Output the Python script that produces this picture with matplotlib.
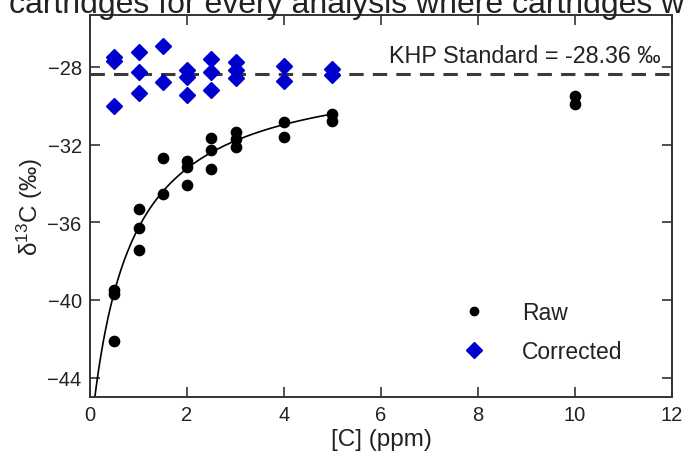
import numpy as np
import matplotlib
matplotlib.use("Agg")
import matplotlib.pyplot as plt

plt.rcParams['font.family'] = ['Liberation Sans', 'DejaVu Sans']

# Raw measurements: concentration (ppm) and delta 13C (per mil)
raw_conc = [0.5, 0.5, 0.5, 1, 1, 1, 1.5, 1.5, 2, 2, 2, 2.5, 2.5, 2.5,
            3, 3, 3, 4, 4, 5, 5, 10, 10]
raw_d13c = [-39.5, -39.7, -42.1, -35.3, -36.3, -37.45, -32.7, -34.55,
            -32.85, -33.15, -34.1, -31.65, -32.3, -33.25,
            -31.35, -31.7, -32.1, -30.85, -31.6, -30.45, -30.8, -29.5, -29.9]

# Blank-corrected values
corr_conc = [0.5, 0.5, 0.5, 1, 1, 1, 1.5, 1.5, 2, 2, 2, 2.5, 2.5, 2.5,
             3, 3, 3, 4, 4, 5, 5]
corr_d13c = [-27.5, -27.7, -30.0, -27.25, -28.25, -29.35, -26.9, -28.8,
             -28.15, -28.5, -29.45, -27.6, -28.25, -29.2,
             -27.75, -28.15, -28.55, -27.95, -28.7, -28.1, -28.4]

# KHP reference value
khp_std = -28.36

# Blank-mixing fit: d13C = a + b / (C + k)
fit_a, fit_b, fit_k = -27.83, -14.97, 0.772
fit_range = (0.08, 5.0)

x_ticks = [0, 2, 4, 6, 8, 10, 12]
y_ticks = [-44, -40, -36, -32, -28]

fig = plt.figure(figsize=(6.85, 4.6), dpi=100)
ax = fig.add_axes([0.1314, 0.1348, 0.8496, 0.8315])

# Fragment of running text along the top edge
fig.text(9 / 685, 1 - 13 / 460, "cartridges for every analysis where cartridges w",
         fontsize=23, color='#222222', va='baseline', ha='left')

ax.axhline(khp_std, color='#3a3a3a', lw=2.2, dashes=(4.7, 3.0), zorder=1)

xf = np.linspace(fit_range[0], fit_range[1], 300)
ax.plot(xf, fit_a + fit_b / (xf + fit_k), color='black', lw=1.2, zorder=2)

ax.plot(raw_conc, raw_d13c, 'o', color='black', ms=7.4, ls='none',
        label='Raw', zorder=3)
ax.plot(corr_conc, corr_d13c, 'D', color='#0000cc', ms=7.8, ls='none',
        label='Corrected', zorder=3)

ax.text(11.76, khp_std + 0.35, u"KHP Standard = -28.36 \u2030",
        ha='right', va='bottom', fontsize=16.8, color='#222222')

ax.set_xlim(0, 12)
ax.set_ylim(-45, -25.3)
ax.set_xticks(x_ticks)
ax.set_yticks(y_ticks)
ax.tick_params(direction='in', length=7, width=1.2, colors='#333333',
               labelcolor='#222222', labelsize=14.5, top=True, right=True,
               pad=6)
ax.tick_params(axis='x', labeltop=False)
for sp in ax.spines.values():
    sp.set_color('#333333')
    sp.set_linewidth(1.4)

ax.set_xlabel("[C] (ppm)", fontsize=17.5, color='#222222', labelpad=3)
ax.set_ylabel(r"$\mathregular{\delta^{13}C}$ (" + u"\u2030" + ")",
              fontsize=17.5, color='#222222', labelpad=2)

leg = ax.legend(loc='lower right', bbox_to_anchor=(0.95, 0.035), frameon=False,
                fontsize=16.5, handletextpad=1.6, labelspacing=0.7,
                handlelength=1.0)
leg.legend_handles[0].set_markersize(6.0)
leg.legend_handles[1].set_markersize(7.8)
for t in leg.get_texts():
    t.set_color('#222222')

fig.savefig("out.png", dpi=100)
